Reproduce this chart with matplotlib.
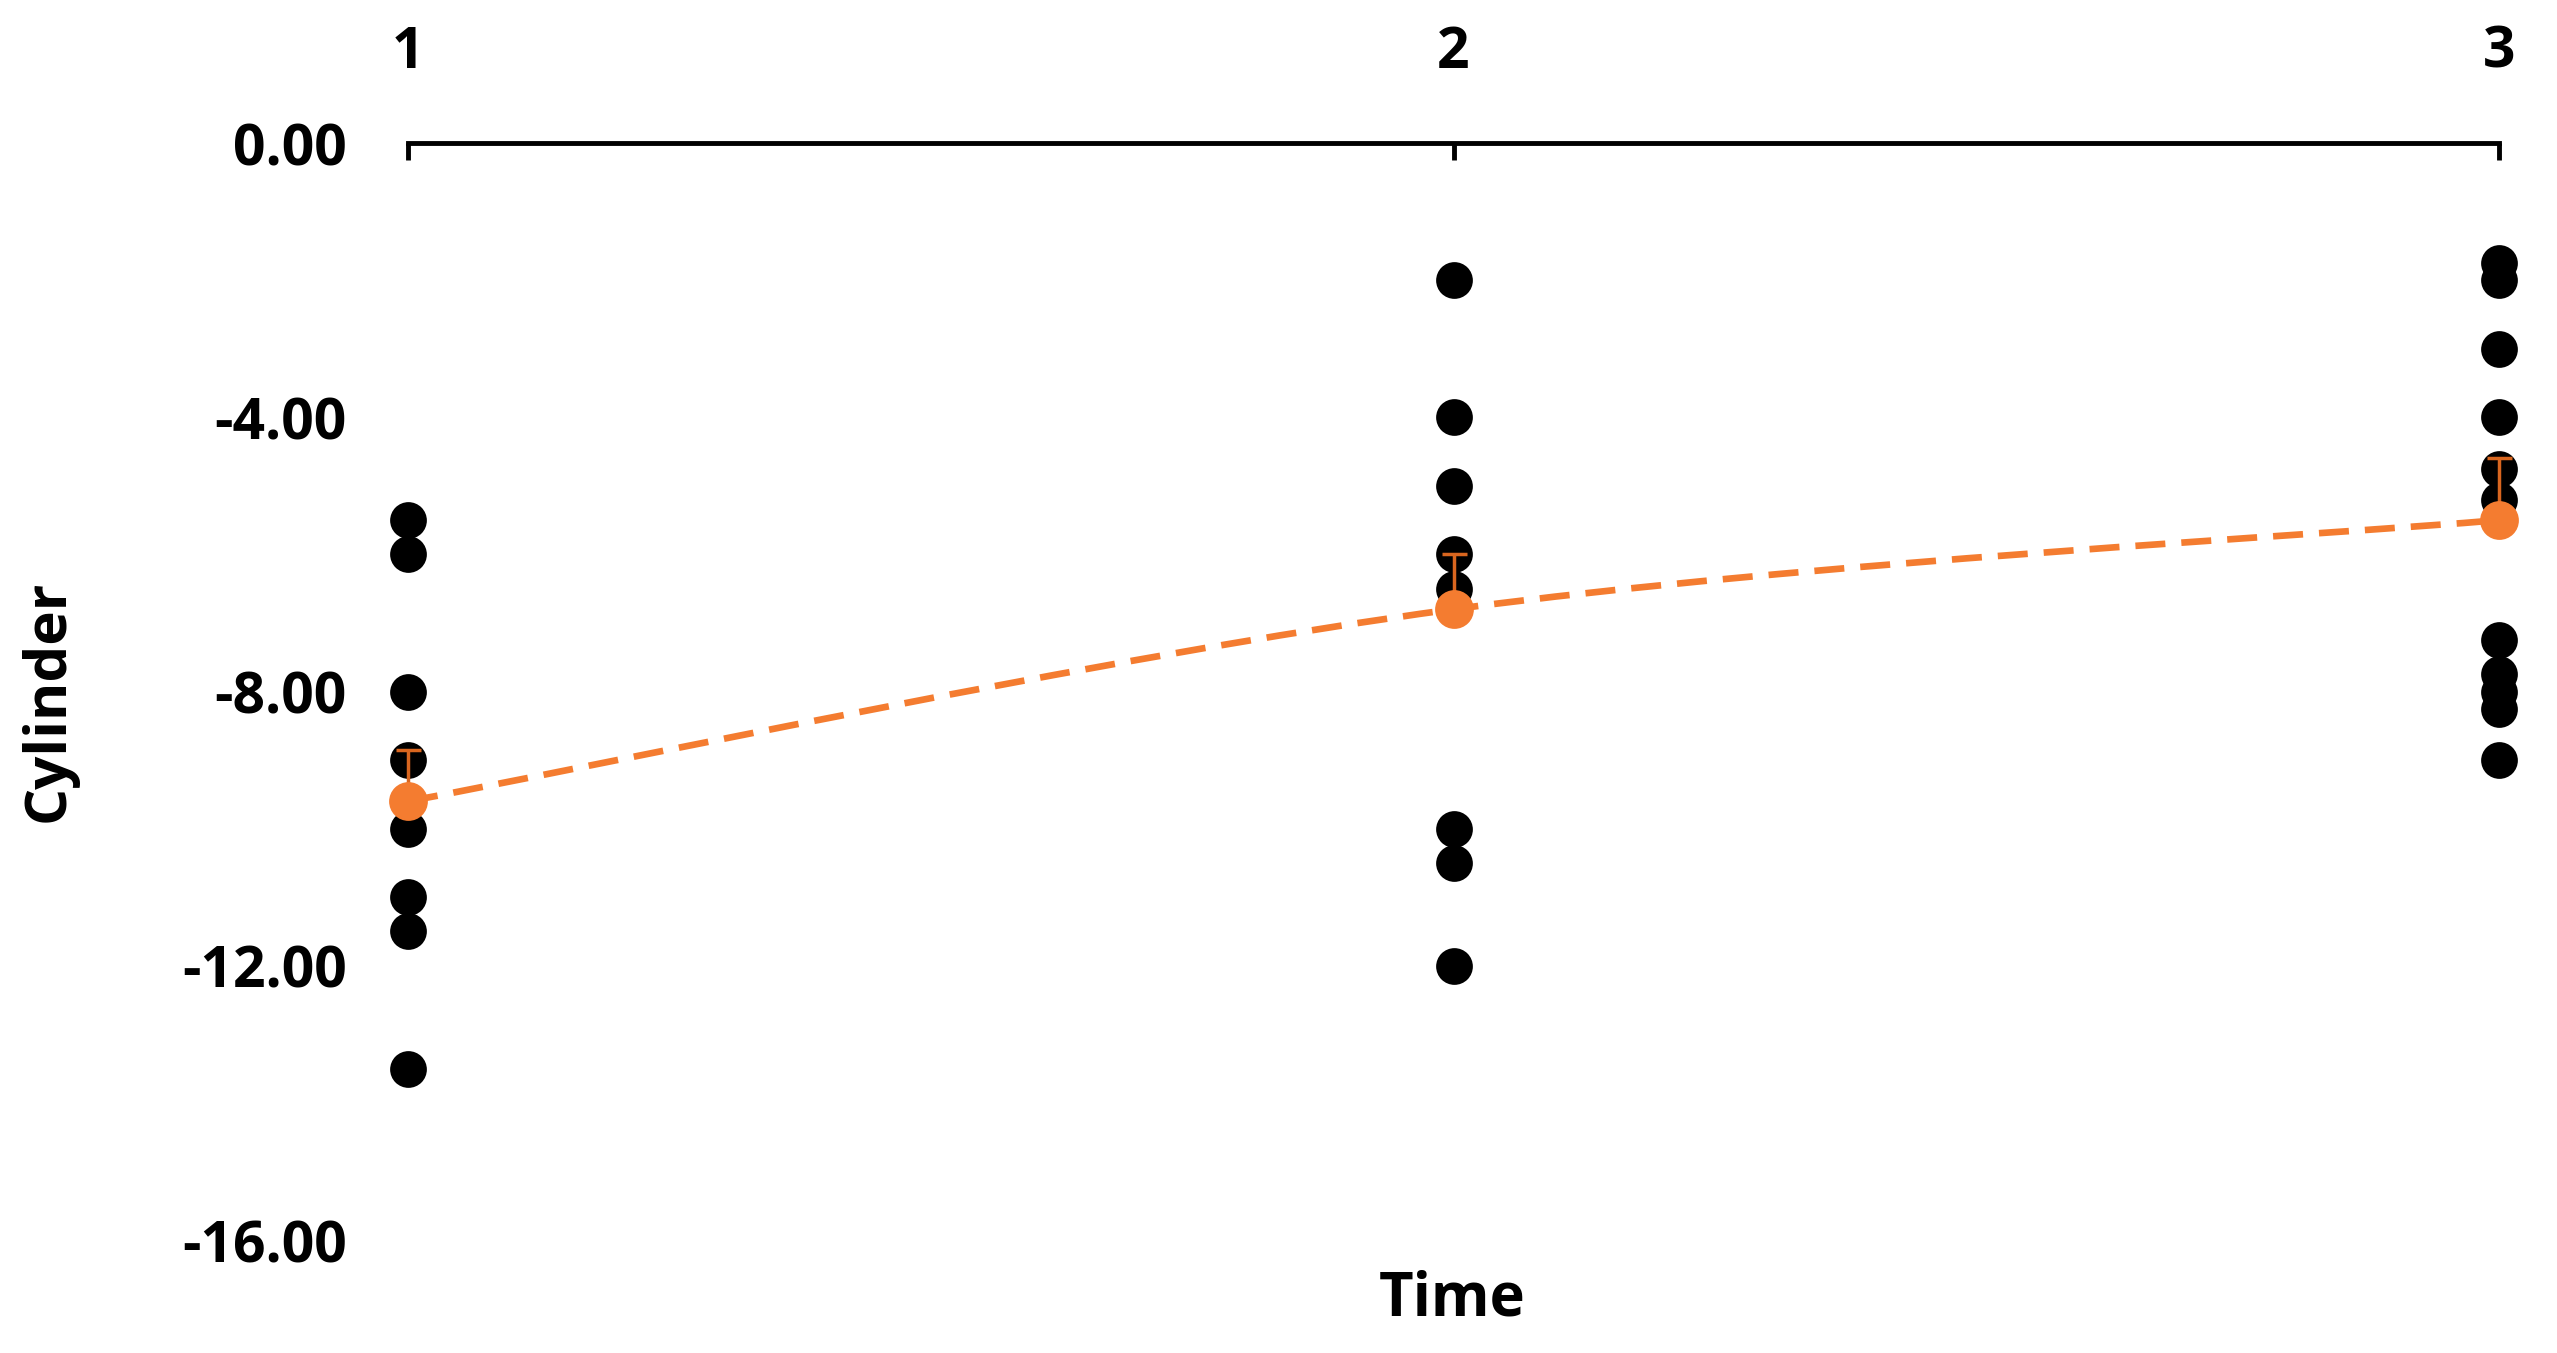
import matplotlib
matplotlib.use("Agg")
import matplotlib.pyplot as plt
from matplotlib.path import Path
from matplotlib.patches import PathPatch

# values
times = [1, 2, 3]
time1_vals = [-5.5, -6.0, -8.0, -9.0, -10.0, -11.0, -11.5, -13.5]
time2_vals = [-2.0, -4.0, -5.0, -6.0, -6.5, -10.0, -10.5, -12.0]
time3_vals = [-1.75, -2.0, -3.0, -4.0, -4.75, -5.2, -7.25, -7.75, -8.0, -8.25, -9.0]
mean_vals = [-9.6, -6.8, -5.5]
mean_err_up = [0.75, 0.8, 0.9]
y_ticks = [0, -4, -8, -12, -16]

ORANGE = "#F47C30"
plt.rcParams['font.family'] = ['Open Sans', 'DejaVu Sans']

fig = plt.figure(figsize=(25.57, 13.53), dpi=100)
ax = fig.add_axes([0.1596, 0.0835, 0.8177, 0.8108])

for t, vals in zip(times, [time1_vals, time2_vals, time3_vals]):
    ax.scatter([t] * len(vals), vals, s=700, color="black", zorder=3, clip_on=False,
               linewidths=0)

# smoothed line through the means (Excel style bezier)
pts = list(zip(times, mean_vals))
verts = [pts[0]]
codes = [Path.MOVETO]
n = len(pts)
for i in range(n - 1):
    p0 = pts[max(i - 1, 0)]
    p1 = pts[i]
    p2 = pts[i + 1]
    p3 = pts[min(i + 2, n - 1)]
    c1 = (p1[0] + (p2[0] - p0[0]) / 6, p1[1] + (p2[1] - p0[1]) / 6)
    c2 = (p2[0] - (p3[0] - p1[0]) / 6, p2[1] - (p3[1] - p1[1]) / 6)
    verts += [c1, c2, p2]
    codes += [Path.CURVE4] * 3
ax.add_patch(PathPatch(Path(verts, codes), facecolor="none", edgecolor=ORANGE,
                       lw=4.8, linestyle=(0, (4.5, 2.4)), zorder=4, clip_on=False))

ax.errorbar(times, mean_vals, yerr=[[0] * 3, mean_err_up], fmt="none",
            ecolor="#D9661F", elinewidth=2.5, capsize=9, capthick=2.5, zorder=5,
            clip_on=False)
ax.scatter(times, mean_vals, s=780, color=ORANGE, zorder=6, clip_on=False, linewidths=0)

ax.set_xlim(1, 3)
ax.set_ylim(-16, 0)
ax.xaxis.tick_top()
ax.set_xticks(times)
ax.set_xticklabels([str(t) for t in times], fontsize=41, fontweight="bold")
ax.tick_params(axis="x", direction="in", length=12, width=3.5, pad=44)
ax.set_yticks(y_ticks)
ax.set_yticklabels([f"{v:.2f}" for v in y_ticks], fontsize=41, fontweight="bold")
ax.tick_params(axis="y", length=0, pad=44)

for side in ["left", "right", "bottom"]:
    ax.spines[side].set_visible(False)
ax.spines["top"].set_linewidth(3.5)

fig.text(0.568, 0.039, "Time", fontsize=43, fontweight="bold", ha="center", va="center")
fig.text(0.019, 0.482, "Cylinder", fontsize=42, fontweight="bold", ha="center",
         va="center", rotation=90)

fig.savefig("out.png", dpi=100)
